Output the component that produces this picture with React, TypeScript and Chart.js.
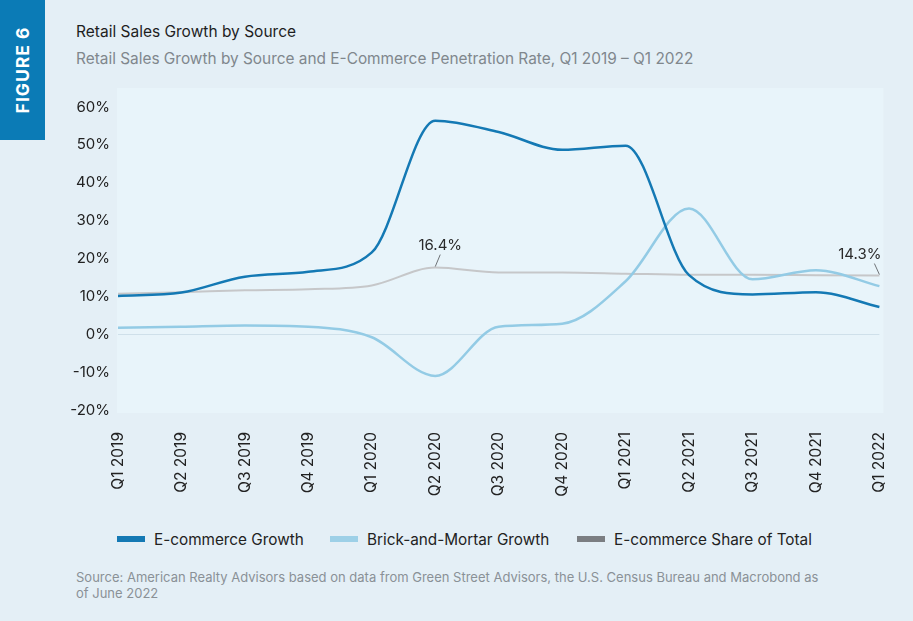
import { useRef, useEffect } from 'react';
import { Chart, registerables } from 'chart.js';

Chart.register(...registerables);

const QUARTERS = [
  'Q1 2019', 'Q2 2019', 'Q3 2019', 'Q4 2019',
  'Q1 2020', 'Q2 2020', 'Q3 2020', 'Q4 2020',
  'Q1 2021', 'Q2 2021', 'Q3 2021', 'Q4 2021',
  'Q1 2022',
];

const ECOMMERCE_GROWTH = [10.1, 11.0, 15.2, 16.5, 21.6, 56.4, 53.4, 48.7, 49.8, 15.6, 10.5, 11.1, 7.2];
const BRICK_MORTAR_GROWTH = [1.7, 2.0, 2.3, 2.0, -0.8, -11.0, 2.0, 2.8, 14.0, 33.2, 14.5, 16.9, 12.7];
const ECOMMERCE_SHARE = [10.7, 11.1, 11.6, 11.9, 12.9, 17.6, 16.3, 16.3, 16.0, 15.7, 15.7, 15.6, 15.5];

const Y_TICKS = [-20, -10, 0, 10, 20, 30, 40, 50, 60];

// which share points carry a callout, and the text shown
const CALLOUTS = [
  { index: 5, text: '16.4%', side: 'center' },
  { index: 12, text: '14.3%', side: 'right' },
];

const COLORS = {
  page: '#e4eff6',
  plot: '#e8f4fa',
  tab: '#0b7bb6',
  ecom: '#1479b4',
  brick: '#93cbe5',
  share: '#c6c7c9',
  shareLegend: '#7b7e82',
  zero: '#cfe0ea',
  text: '#222222',
  muted: '#80878d',
};

const LEGEND = [
  { label: 'E-commerce Growth', color: COLORS.ecom, left: 117 },
  { label: 'Brick-and-Mortar Growth', color: '#9dd0e7', left: 330 },
  { label: 'E-commerce Share of Total', color: COLORS.shareLegend, left: 577 },
];

const FONT = 'Inter, "Open Sans", sans-serif';

export default function App() {
  const canvasRef = useRef<HTMLCanvasElement>(null);
  const chartRef = useRef<Chart | null>(null);

  useEffect(() => {
    if (!canvasRef.current) return;
    if (chartRef.current) chartRef.current.destroy();

    chartRef.current = new Chart(canvasRef.current, {
      type: 'line',
      data: {
        labels: QUARTERS,
        datasets: [
          {
            label: 'E-commerce Growth',
            data: ECOMMERCE_GROWTH,
            borderColor: COLORS.ecom,
            borderWidth: 2.5,
            pointRadius: 0,
            cubicInterpolationMode: 'monotone',
            order: 1,
          },
          {
            label: 'Brick-and-Mortar Growth',
            data: BRICK_MORTAR_GROWTH,
            borderColor: COLORS.brick,
            borderWidth: 2.5,
            pointRadius: 0,
            cubicInterpolationMode: 'monotone',
            order: 2,
          },
          {
            label: 'E-commerce Share of Total',
            data: ECOMMERCE_SHARE,
            borderColor: COLORS.share,
            borderWidth: 2,
            pointRadius: 0,
            cubicInterpolationMode: 'monotone',
            order: 3,
          },
        ],
      },
      options: {
        responsive: true,
        maintainAspectRatio: false,
        animation: false,
        layout: { padding: { top: 19, right: 13, left: 0, bottom: 0 } },
        plugins: {
          legend: { display: false },
          tooltip: { enabled: false },
        },
        scales: {
          x: {
            offset: false,
            grid: { display: false },
            border: { display: false },
            ticks: {
              autoSkip: false,
              maxRotation: 90,
              minRotation: 90,
              padding: 14,
              color: COLORS.text,
              font: { family: FONT, size: 15.5 },
            },
            afterFit: (s) => { s.height = 110; },
          },
          y: {
            min: Y_TICKS[0],
            max: Y_TICKS[Y_TICKS.length - 1],
            afterBuildTicks: (s) => { s.ticks = Y_TICKS.map((v) => ({ value: v })); },
            grid: {
              drawTicks: false,
              color: (c) => (c.tick && c.tick.value === 0 ? COLORS.zero : 'rgba(0,0,0,0)'),
              lineWidth: 1,
            },
            border: { display: false },
            ticks: {
              padding: 8,
              color: COLORS.text,
              font: { family: FONT, size: 15 },
              callback: (v) => `${v}%`,
            },
            afterFit: (s) => { s.width = 58; },
          },
        },
      },
      plugins: [
        {
          id: 'plotBackground',
          beforeDraw(chart) {
            const { ctx, chartArea } = chart;
            ctx.save();
            ctx.fillStyle = COLORS.plot;
            ctx.fillRect(chartArea.left - 1, chartArea.top - 19, chartArea.right - chartArea.left + 5, chartArea.bottom - chartArea.top + 22);
            ctx.restore();
          },
        },
        {
          id: 'callouts',
          afterDatasetsDraw(chart) {
            const { ctx } = chart;
            const meta = chart.getDatasetMeta(2);
            ctx.save();
            ctx.font = `15px ${FONT}`;
            ctx.fillStyle = '#2a2a2a';
            ctx.strokeStyle = '#6f7377';
            ctx.lineWidth = 1;
            ctx.textBaseline = 'middle';
            CALLOUTS.forEach((c) => {
              const pt = meta.data[c.index];
              const x = pt.x;
              const y = pt.y;
              ctx.beginPath();
              if (c.side === 'center') {
                ctx.moveTo(x + 5, y - 13);
                ctx.lineTo(x, y - 1);
                ctx.stroke();
                ctx.textAlign = 'center';
                ctx.fillText(c.text, x + 5, y - 22);
              } else {
                ctx.moveTo(x - 5, y - 12);
                ctx.lineTo(x, y - 1);
                ctx.stroke();
                ctx.textAlign = 'right';
                ctx.fillText(c.text, x + 2, y - 21);
              }
            });
            ctx.restore();
          },
        },
      ],
    });

    return () => {
      chartRef.current?.destroy();
      chartRef.current = null;
    };
  }, []);

  return (
    <div style={{ position: 'fixed', left: 0, top: 0, width: 913, height: 621, background: COLORS.page, fontFamily: FONT, overflow: 'hidden' }}>
      <div style={{ position: 'absolute', left: 0, top: 0, width: 45, height: 140, background: COLORS.tab }}>
        <div style={{ position: 'absolute', left: 22, top: 70, transform: 'translate(-50%, -50%) rotate(-90deg)', color: '#ffffff', fontWeight: 700, fontSize: 17.5, letterSpacing: 1, whiteSpace: 'nowrap' }}>
          FIGURE 6
        </div>
      </div>
      <div style={{ position: 'absolute', left: 76, top: 22, fontSize: 15.5, color: '#1e1e1e', whiteSpace: 'nowrap' }}>
        Retail Sales Growth by Source
      </div>
      <div style={{ position: 'absolute', left: 76, top: 49, fontSize: 15.4, color: COLORS.muted, whiteSpace: 'nowrap' }}>
        Retail Sales Growth by Source and E-Commerce Penetration Rate, Q1 2019 – Q1 2022
      </div>
      <div style={{ position: 'absolute', left: 60, top: 88, width: 852, height: 432 }}>
        <canvas ref={canvasRef} />
      </div>
      {LEGEND.map((item) => (
        <div key={item.label} style={{ position: 'absolute', left: item.left, top: 529, height: 20, display: 'flex', alignItems: 'center', whiteSpace: 'nowrap' }}>
          <span style={{ display: 'inline-block', width: 28, height: 6, background: item.color, marginRight: 9 }} />
          <span style={{ fontSize: 15.3, color: COLORS.text }}>{item.label}</span>
        </div>
      ))}
      <div style={{ position: 'absolute', left: 76, top: 569, fontSize: 13, lineHeight: '16px', color: '#8a9197', whiteSpace: 'nowrap' }}>
        Source: American Realty Advisors based on data from Green Street Advisors, the U.S. Census Bureau and Macrobond as
        <br />
        of June 2022
      </div>
    </div>
  );
}
